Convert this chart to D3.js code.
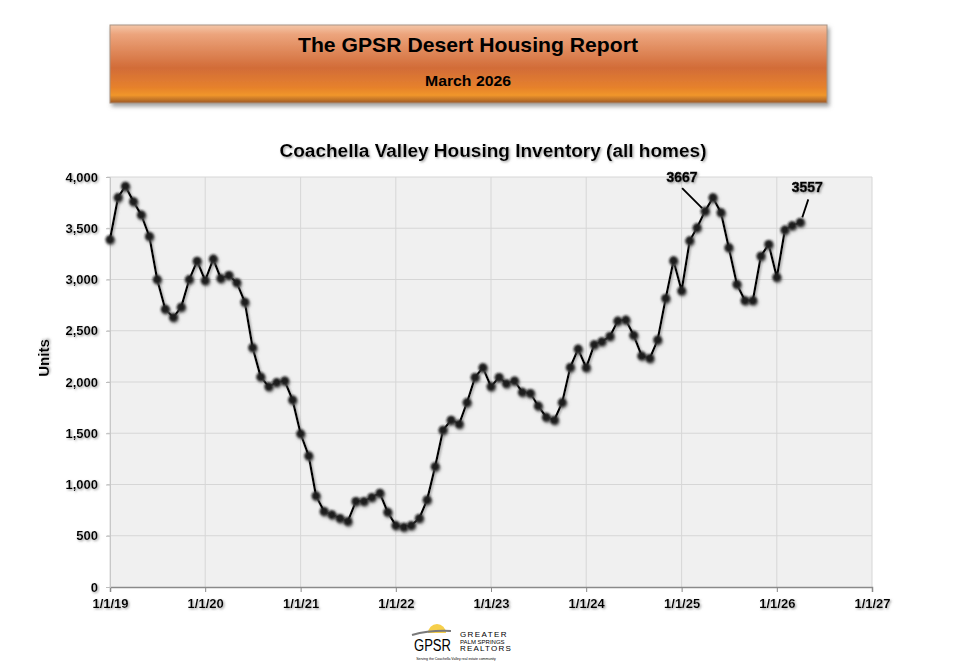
<!DOCTYPE html>
<html>
<head>
<meta charset="utf-8">
<script src="https://cdn.jsdelivr.net/npm/d3@7/dist/d3.min.js"></script>
<style>
  body { margin: 0; background: #fff; }
  text { font-family: Arial, "Liberation Sans", sans-serif; font-weight: bold; fill: #000; }
</style>
</head>
<body>
<svg id="chart"></svg>
<script>
// monthly inventory, starting Jan 2019
let startMonth = new Date(2019, 0, 1)
let inventory = [
  3390, 3800, 3910, 3760, 3630, 3420, 3000, 2710, 2630, 2730, 3000, 3180,
  2990, 3200, 3010, 3040, 2970, 2780, 2335, 2050, 1955, 1995, 2010, 1825,
  1495, 1280, 890, 737, 705, 670, 640, 835, 835, 875, 915, 730,
  600, 585, 600, 670, 850, 1175, 1530, 1627, 1590, 1800, 2045, 2140,
  1955, 2045, 1985, 2010, 1900, 1890, 1766, 1656, 1629, 1800, 2143, 2322,
  2140, 2365, 2393, 2445, 2595, 2605, 2456, 2254, 2231, 2410, 2816, 3183,
  2890, 3378, 3505, 3667, 3798, 3652, 3310, 2953, 2793, 2793, 3229, 3343,
  3021, 3483, 3525, 3557
]
let yTicks = [0, 500, 1000, 1500, 2000, 2500, 3000, 3500, 4000]
let calloutIndex = [75, 87]

let reportTitle = 'The GPSR Desert Housing Report'
let reportMonth = 'March 2026'
let chartTitle = 'Coachella Valley Housing Inventory (all homes)'

let width = 958
let height = 670
let plotLeft = 110, plotRight = 872, plotTop = 177, plotBottom = 587

let values = inventory.map((v, i) => ({
  date: d3.timeMonth.offset(startMonth, i),
  value: v
}))

let svg = d3.select('#chart')
  .attr('width', width)
  .attr('height', height)

let defs = svg.append('defs')

// header gradient
let grad = defs.append('linearGradient')
  .attr('id', 'headGrad')
  .attr('x1', 0).attr('y1', 0).attr('x2', 0).attr('y2', 1)
let stops = [[0, '#f4c6a8'], [0.12, '#eca47c'], [0.55, '#d26c38'], [0.8, '#e6812c'], [0.9, '#f0962a'], [1, '#9c5826']]
stops.forEach(s => grad.append('stop').attr('offset', s[0]).attr('stop-color', s[1]))

let boxShadow = defs.append('filter').attr('id', 'boxShadow')
  .attr('x', '-5%').attr('y', '-20%').attr('width', '110%').attr('height', '150%')
boxShadow.append('feDropShadow')
  .attr('dx', 2).attr('dy', 3).attr('stdDeviation', 2)
  .attr('flood-color', '#777').attr('flood-opacity', 0.7)

let textShadow = defs.append('filter').attr('id', 'textShadow')
  .attr('x', '-20%').attr('y', '-40%').attr('width', '140%').attr('height', '180%')
textShadow.append('feDropShadow')
  .attr('dx', 1.2).attr('dy', 1.2).attr('stdDeviation', 1)
  .attr('flood-color', '#888').attr('flood-opacity', 0.8)

let dotShadow = defs.append('filter').attr('id', 'dotShadow')
  .attr('x', '-100%').attr('y', '-100%').attr('width', '300%').attr('height', '300%')
dotShadow.append('feGaussianBlur').attr('in', 'SourceGraphic').attr('stdDeviation', 0.9).attr('result', 'soft')
dotShadow.append('feDropShadow')
  .attr('in', 'soft')
  .attr('dx', 1).attr('dy', 1.5).attr('stdDeviation', 1.3)
  .attr('flood-color', '#666').attr('flood-opacity', 0.8)

// header box
svg.append('rect')
  .attr('x', 110).attr('y', 25)
  .attr('width', 717).attr('height', 78)
  .attr('fill', 'url(#headGrad)')
  .attr('stroke', '#a89484')
  .attr('stroke-width', 1)
  .attr('filter', 'url(#boxShadow)')

svg.append('text')
  .attr('x', 468).attr('y', 52)
  .attr('text-anchor', 'middle')
  .style('font-size', '21px')
  .attr('textLength', 340)
  .attr('lengthAdjust', 'spacingAndGlyphs')
  .text(reportTitle)

svg.append('text')
  .attr('x', 468).attr('y', 86)
  .attr('text-anchor', 'middle')
  .style('font-size', '15px')
  .attr('textLength', 86)
  .attr('lengthAdjust', 'spacingAndGlyphs')
  .text(reportMonth)

// chart title
svg.append('text')
  .attr('x', 493).attr('y', 157)
  .attr('text-anchor', 'middle')
  .style('font-size', '18px')
  .attr('textLength', 427)
  .attr('lengthAdjust', 'spacingAndGlyphs')
  .attr('filter', 'url(#textShadow)')
  .text(chartTitle)

// scales
let xScale = d3.scaleTime()
  .domain([new Date(2019, 0, 1), new Date(2027, 0, 1)])
  .range([plotLeft, plotRight])

let yScale = d3.scaleLinear()
  .domain([0, 4000])
  .range([plotBottom, plotTop])

// plot background
svg.append('rect')
  .attr('x', plotLeft).attr('y', plotTop)
  .attr('width', plotRight - plotLeft).attr('height', plotBottom - plotTop)
  .attr('fill', '#f0f0f0')

let yearTicks = xScale.ticks(d3.timeYear.every(1))

// grid
svg.append('g')
  .selectAll('line')
  .data(yTicks.slice(1))
  .enter()
  .append('line')
  .attr('x1', plotLeft - 3).attr('x2', plotRight)
  .attr('y1', d => yScale(d)).attr('y2', d => yScale(d))
  .attr('stroke', '#d6d6d6')

svg.append('g')
  .selectAll('line')
  .data(yearTicks)
  .enter()
  .append('line')
  .attr('x1', d => xScale(d)).attr('x2', d => xScale(d))
  .attr('y1', plotTop).attr('y2', plotBottom)
  .attr('stroke', '#d6d6d6')

// axes
let xAxis = d3.axisBottom(xScale)
  .tickValues(yearTicks)
  .tickFormat(d3.timeFormat('%-m/%-d/%y'))
  .tickSize(5)
  .tickPadding(7)

let yAxis = d3.axisLeft(yScale)
  .tickValues(yTicks)
  .tickFormat(d3.format(','))
  .tickSize(4)
  .tickPadding(8)

let gx = svg.append('g')
  .attr('id', 'x-axis')
  .attr('transform', 'translate(0,' + plotBottom + ')')
  .call(xAxis)
gx.select('.domain').attr('stroke', '#8a8a8a').attr('stroke-width', 1.5)
gx.selectAll('.tick line').attr('stroke', '#8a8a8a')
gx.selectAll('text')
  .style('font-size', '13px')
  .style('font-family', 'Arial, "Liberation Sans", sans-serif')
  .style('font-weight', 'bold')
  .attr('fill', '#000')
  .attr('filter', 'url(#textShadow)')

let gy = svg.append('g')
  .attr('id', 'y-axis')
  .attr('transform', 'translate(' + plotLeft + ',0)')
  .call(yAxis)
gy.select('.domain').attr('stroke', '#c8c8c8')
gy.selectAll('.tick line').attr('stroke', '#bdbdbd')
gy.selectAll('text')
  .style('font-size', '13px')
  .style('font-family', 'Arial, "Liberation Sans", sans-serif')
  .style('font-weight', 'bold')
  .attr('fill', '#000')
  .attr('filter', 'url(#textShadow)')

svg.append('text')
  .attr('transform', 'translate(49,358) rotate(-90)')
  .attr('text-anchor', 'middle')
  .style('font-size', '15px')
  .attr('filter', 'url(#textShadow)')
  .text('Units')

// series
let line = d3.line()
  .x(d => xScale(d.date))
  .y(d => yScale(d.value))

svg.append('path')
  .datum(values)
  .attr('d', line)
  .attr('fill', 'none')
  .attr('stroke', '#000')
  .attr('stroke-width', 2.2)
  .attr('filter', 'url(#textShadow)')

svg.append('g')
  .selectAll('circle')
  .data(values)
  .enter()
  .append('circle')
  .attr('cx', d => xScale(d.date))
  .attr('cy', d => yScale(d.value))
  .attr('r', 4.4)
  .attr('fill', '#1a1a1a')
  .attr('filter', 'url(#dotShadow)')

// callouts
let calloutStyle = [
  { tx: -23, ty: -29, x1: -23, y1: -23, x2: -3, y2: -3 },
  { tx: 7, ty: -30, x1: 8, y1: -23, x2: 2, y2: -5 }
]
calloutIndex.forEach((idx, k) => {
  let d = values[idx]
  let px = xScale(d.date), py = yScale(d.value)
  let s = calloutStyle[k]
  svg.append('line')
    .attr('x1', px + s.x1).attr('y1', py + s.y1)
    .attr('x2', px + s.x2).attr('y2', py + s.y2)
    .attr('stroke', '#000').attr('stroke-width', 1.8)
  svg.append('text')
    .attr('x', px + s.tx).attr('y', py + s.ty)
    .attr('text-anchor', 'middle')
    .style('font-size', '14px')
    .attr('textLength', 31)
    .attr('lengthAdjust', 'spacingAndGlyphs')
    .attr('stroke', '#000').attr('stroke-width', 0.6)
    .attr('filter', 'url(#textShadow)')
    .text(d.value)
})

// logo
let logo = svg.append('g')
logo.append('path')
  .attr('d', 'M428,633 A9,9 0 0 1 446,633 Z')
  .attr('fill', '#f6cf4a')
logo.append('path')
  .attr('d', 'M412,635 Q430,630 451,631')
  .attr('fill', 'none').attr('stroke', '#7a7a7a').attr('stroke-width', 2)
logo.append('text')
  .attr('x', 414).attr('y', 651)
  .style('font-size', '16px').style('font-weight', 'normal')
  .attr('textLength', 37)
  .attr('lengthAdjust', 'spacingAndGlyphs')
  .attr('fill', '#79bfd6')
  .text('GPSR')
logo.append('text')
  .attr('x', 460).attr('y', 637)
  .style('font-size', '8px').style('font-weight', 'normal').style('letter-spacing', '1.4px')
  .attr('fill', '#8a8a8a').text('GREATER')
logo.append('text')
  .attr('x', 460).attr('y', 643.5)
  .style('font-size', '6px').style('font-weight', 'normal')
  .attr('fill', '#8a8a8a').text('PALM SPRINGS')
logo.append('text')
  .attr('x', 460).attr('y', 650.5)
  .style('font-size', '8px').style('font-weight', 'normal').style('letter-spacing', '1.2px')
  .attr('fill', '#8a8a8a').text('REALTORS')
logo.append('text')
  .attr('x', 456).attr('y', 660)
  .attr('text-anchor', 'middle')
  .style('font-size', '3.5px').style('font-weight', 'normal')
  .attr('fill', '#9a9a9a').text('Serving the Coachella Valley real estate community')
</script>
</body>
</html>
